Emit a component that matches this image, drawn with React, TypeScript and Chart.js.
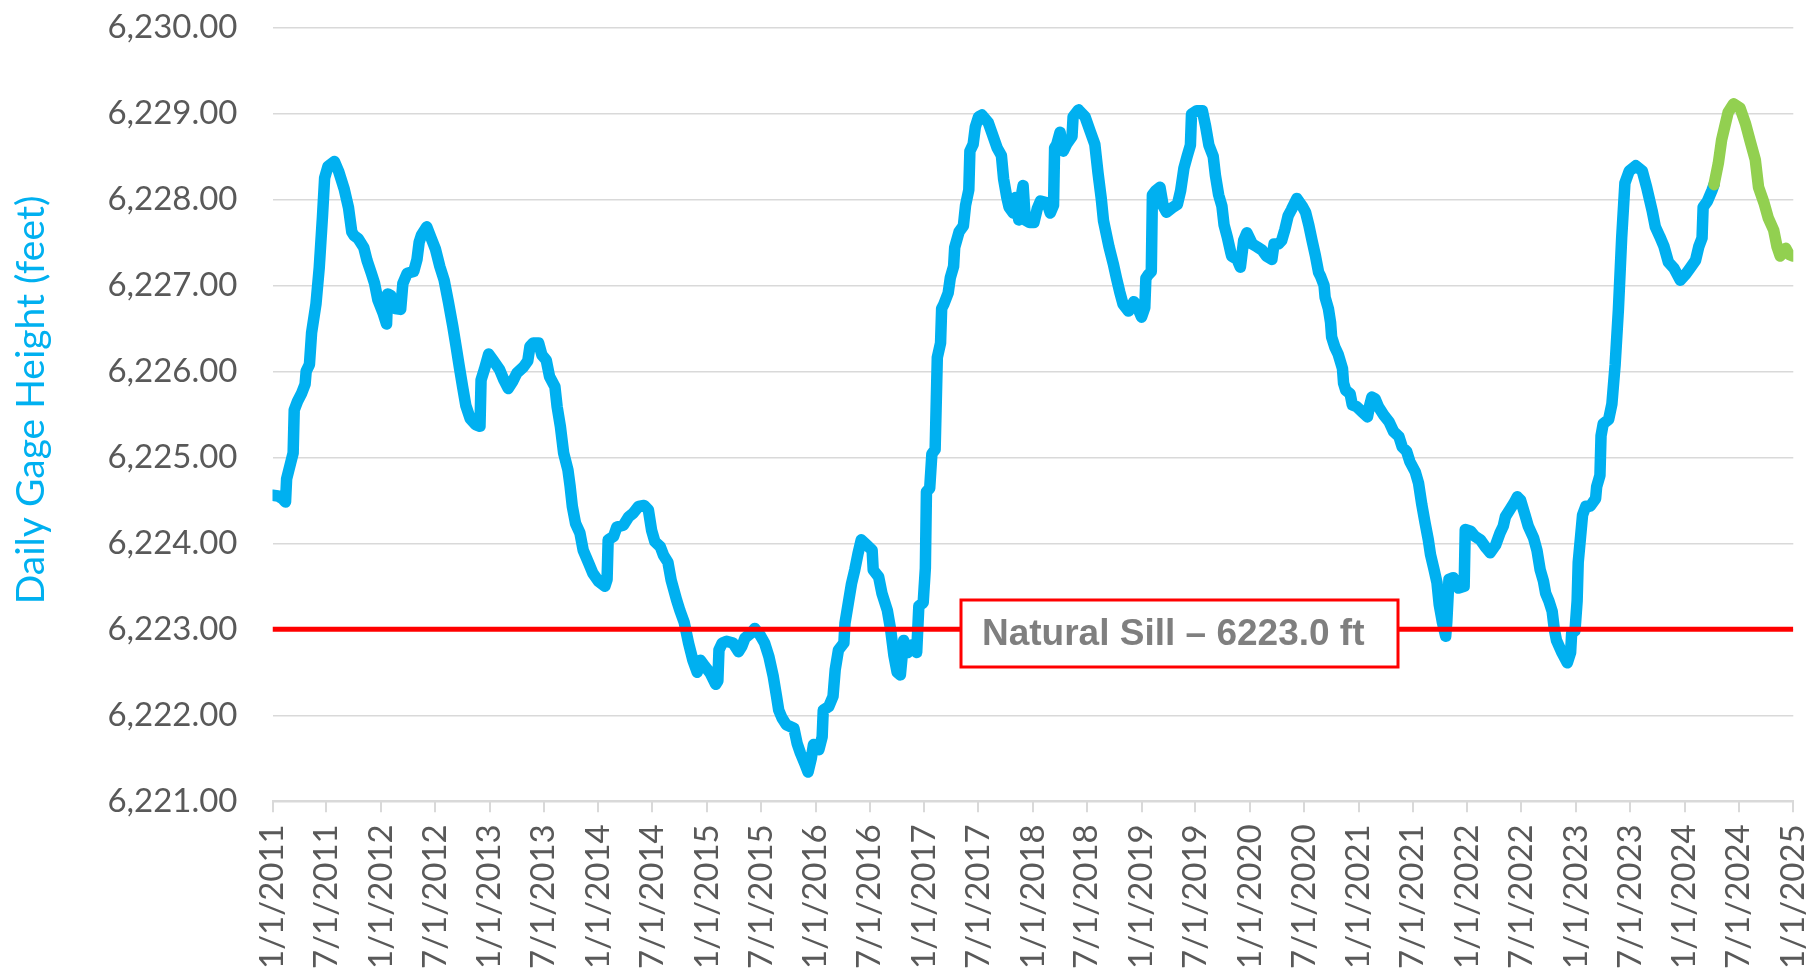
import React, { useEffect, useRef } from "react";
import { Chart, registerables } from "chart.js";

Chart.register(...registerables);

// ---------- DATA ----------
const tickLabels = [
  "1/1/2011", "7/1/2011", "1/1/2012", "7/1/2012", "1/1/2013", "7/1/2013",
  "1/1/2014", "7/1/2014", "1/1/2015", "7/1/2015", "1/1/2016", "7/1/2016",
  "1/1/2017", "7/1/2017", "1/1/2018", "7/1/2018", "1/1/2019", "7/1/2019",
  "1/1/2020", "7/1/2020", "1/1/2021", "7/1/2021", "1/1/2022", "7/1/2022",
  "1/1/2023", "7/1/2023", "1/1/2024", "7/1/2024", "1/1/2025",
];

const yAxisMin = 6221;
const yAxisMax = 6230;
const yAxisStep = 1;

const sillHeight = 6223.0;
const sillLabel = "Natural Sill \u2013 6223.0 ft";
const yTitle = "Daily Gage Height (feet)";

// Decimal-year dates and daily gage heights (blue = record, green = latest period)
const blueDates = [
  2011.00, 2011.05, 2011.09, 2011.12, 2011.13, 2011.17, 2011.19, 2011.20, 2011.23, 2011.27, 2011.30, 2011.31, 2011.34, 2011.36, 2011.40, 2011.43, 2011.46, 2011.48, 2011.51, 2011.57, 2011.61, 2011.66, 2011.70, 2011.73, 2011.75, 2011.79, 2011.84, 2011.87, 2011.91, 2011.94, 2011.97,
  2012.02, 2012.05, 2012.06, 2012.09, 2012.13, 2012.18, 2012.20, 2012.24, 2012.30, 2012.33, 2012.35, 2012.37, 2012.42, 2012.46, 2012.50, 2012.54, 2012.58, 2012.62, 2012.66, 2012.69, 2012.72, 2012.75, 2012.78, 2012.82, 2012.87, 2012.91, 2012.92, 2012.95, 2012.99,
  2013.03, 2013.09, 2013.13, 2013.17, 2013.21, 2013.25, 2013.31, 2013.35, 2013.37, 2013.40, 2013.45, 2013.48, 2013.52, 2013.55, 2013.60, 2013.62, 2013.65, 2013.68, 2013.72, 2013.74, 2013.76, 2013.79, 2013.83, 2013.86, 2013.91, 2013.95,
  2014.00, 2014.06, 2014.08, 2014.09, 2014.14, 2014.17, 2014.23, 2014.28, 2014.32, 2014.37, 2014.42, 2014.46, 2014.49, 2014.52, 2014.57, 2014.60, 2014.64, 2014.67, 2014.72, 2014.75, 2014.79, 2014.83, 2014.87, 2014.91, 2014.94, 2014.98,
  2015.03, 2015.08, 2015.10, 2015.11, 2015.14, 2015.18, 2015.24, 2015.29, 2015.32, 2015.35, 2015.40, 2015.44, 2015.49, 2015.53, 2015.57, 2015.61, 2015.64, 2015.66, 2015.69, 2015.73, 2015.80, 2015.83, 2015.86, 2015.90, 2015.93, 2015.96, 2015.98,
  2016.03, 2016.06, 2016.07, 2016.12, 2016.16, 2016.18, 2016.21, 2016.26, 2016.27, 2016.30, 2016.33, 2016.36, 2016.39, 2016.42, 2016.47, 2016.52, 2016.53, 2016.58, 2016.61, 2016.66, 2016.69, 2016.72, 2016.75, 2016.78, 2016.81, 2016.85, 2016.89, 2016.93, 2016.95, 2016.99,
  2017.01, 2017.02, 2017.05, 2017.07, 2017.10, 2017.12, 2017.15, 2017.16, 2017.18, 2017.22, 2017.24, 2017.27, 2017.28, 2017.32, 2017.36, 2017.38, 2017.41, 2017.42, 2017.45, 2017.47, 2017.50, 2017.53, 2017.59, 2017.62, 2017.67, 2017.71, 2017.73, 2017.76, 2017.78, 2017.82, 2017.84, 2017.87, 2017.90, 2017.91, 2017.93, 2017.97,
  2018.01, 2018.04, 2018.07, 2018.13, 2018.16, 2018.19, 2018.20, 2018.22, 2018.25, 2018.28, 2018.31, 2018.36, 2018.37, 2018.42, 2018.48, 2018.53, 2018.57, 2018.60, 2018.63, 2018.65, 2018.70, 2018.74, 2018.77, 2018.80, 2018.83, 2018.88, 2018.93, 2018.97,
  2019.00, 2019.03, 2019.04, 2019.06, 2019.09, 2019.10, 2019.13, 2019.17, 2019.20, 2019.23, 2019.28, 2019.33, 2019.36, 2019.39, 2019.42, 2019.45, 2019.46, 2019.51, 2019.56, 2019.59, 2019.62, 2019.66, 2019.68, 2019.71, 2019.74, 2019.76, 2019.79, 2019.82, 2019.83, 2019.88, 2019.91, 2019.94, 2019.97,
  2020.02, 2020.06, 2020.11, 2020.15, 2020.20, 2020.22, 2020.26, 2020.29, 2020.32, 2020.35, 2020.38, 2020.43, 2020.48, 2020.51, 2020.54, 2020.57, 2020.60, 2020.63, 2020.65, 2020.68, 2020.69, 2020.72, 2020.74, 2020.75, 2020.78, 2020.81, 2020.85, 2020.86, 2020.88, 2020.92, 2020.94, 2020.98,
  2021.03, 2021.08, 2021.10, 2021.12, 2021.15, 2021.18, 2021.23, 2021.28, 2021.32, 2021.37, 2021.40, 2021.44, 2021.47, 2021.52, 2021.55, 2021.58, 2021.61, 2021.64, 2021.66, 2021.69, 2021.72, 2021.74, 2021.77, 2021.80, 2021.81, 2021.83, 2021.87, 2021.92, 2021.97, 2021.98,
  2022.03, 2022.07, 2022.12, 2022.17, 2022.21, 2022.26, 2022.30, 2022.33, 2022.35, 2022.40, 2022.43, 2022.46, 2022.49, 2022.53, 2022.56, 2022.61, 2022.64, 2022.67, 2022.70, 2022.72, 2022.75, 2022.78, 2022.80, 2022.82, 2022.87, 2022.92, 2022.95, 2022.96, 2022.99,
  2023.01, 2023.02, 2023.06, 2023.09, 2023.13, 2023.18, 2023.19, 2023.22, 2023.23, 2023.25, 2023.30, 2023.33, 2023.36, 2023.39, 2023.42, 2023.45, 2023.49, 2023.55, 2023.61, 2023.65, 2023.70, 2023.73, 2023.77, 2023.81, 2023.85, 2023.90, 2023.96,
  2024.01, 2024.05, 2024.10, 2024.13, 2024.16, 2024.17, 2024.21, 2024.25, 2024.27,
];

const blueHeights = [
  6224.56, 6224.55, 6224.52, 6224.48, 6224.75, 6224.95, 6225.05, 6225.55, 6225.65, 6225.75, 6225.85, 6226.00, 6226.08, 6226.45, 6226.78, 6227.20, 6227.80, 6228.25, 6228.38, 6228.44, 6228.32, 6228.12, 6227.90, 6227.62, 6227.58, 6227.54, 6227.44, 6227.29, 6227.14, 6227.02, 6226.83,
  6226.67, 6226.55, 6226.90, 6226.88, 6226.73, 6226.72, 6227.02, 6227.14, 6227.16, 6227.30, 6227.50, 6227.58, 6227.68, 6227.55, 6227.42, 6227.22, 6227.06, 6226.80, 6226.52, 6226.29, 6226.05, 6225.82, 6225.60, 6225.45, 6225.38, 6225.36, 6225.90, 6226.02, 6226.20,
  6226.13, 6226.02, 6225.90, 6225.80, 6225.88, 6225.98, 6226.05, 6226.12, 6226.29, 6226.33, 6226.33, 6226.19, 6226.13, 6225.94, 6225.82, 6225.59, 6225.36, 6225.05, 6224.85, 6224.66, 6224.43, 6224.23, 6224.12, 6223.92, 6223.77, 6223.65,
  6223.56, 6223.50, 6223.58, 6224.04, 6224.08, 6224.19, 6224.21, 6224.31, 6224.35, 6224.43, 6224.44, 6224.39, 6224.15, 6224.02, 6223.96, 6223.86, 6223.78, 6223.57, 6223.34, 6223.22, 6223.08, 6222.84, 6222.64, 6222.50, 6222.64, 6222.57,
  6222.49, 6222.36, 6222.40, 6222.76, 6222.84, 6222.86, 6222.84, 6222.74, 6222.80, 6222.90, 6222.95, 6223.01, 6222.93, 6222.84, 6222.68, 6222.45, 6222.22, 6222.06, 6221.97, 6221.89, 6221.85, 6221.67, 6221.56, 6221.44, 6221.34, 6221.50, 6221.66,
  6221.60, 6221.75, 6222.06, 6222.10, 6222.22, 6222.53, 6222.76, 6222.84, 6223.07, 6223.30, 6223.53, 6223.69, 6223.88, 6224.04, 6223.98, 6223.92, 6223.69, 6223.61, 6223.42, 6223.22, 6223.00, 6222.70, 6222.50, 6222.47, 6222.87, 6222.73, 6222.82, 6222.73, 6223.27, 6223.31,
  6223.71, 6224.60, 6224.64, 6225.04, 6225.09, 6226.16, 6226.33, 6226.73, 6226.78, 6226.91, 6227.09, 6227.22, 6227.44, 6227.62, 6227.69, 6227.93, 6228.11, 6228.56, 6228.64, 6228.84, 6228.96, 6228.98, 6228.89, 6228.78, 6228.60, 6228.51, 6228.24, 6228.02, 6227.91, 6227.84, 6228.02, 6227.76, 6228.09, 6228.16, 6227.76, 6227.73,
  6227.73, 6227.89, 6227.98, 6227.96, 6227.84, 6227.93, 6228.60, 6228.64, 6228.78, 6228.56, 6228.64, 6228.73, 6228.96, 6229.04, 6228.96, 6228.78, 6228.64, 6228.30, 6228.00, 6227.75, 6227.45, 6227.25, 6227.08, 6226.92, 6226.78, 6226.70, 6226.81, 6226.72,
  6226.63, 6226.74, 6227.08, 6227.12, 6227.16, 6228.05, 6228.10, 6228.14, 6227.92, 6227.85, 6227.90, 6227.94, 6228.10, 6228.36, 6228.50, 6228.63, 6228.99, 6229.03, 6229.03, 6228.85, 6228.63, 6228.50, 6228.28, 6228.05, 6227.92, 6227.70, 6227.56, 6227.39, 6227.34, 6227.30, 6227.21, 6227.52, 6227.61,
  6227.48, 6227.45, 6227.41, 6227.34, 6227.30, 6227.48, 6227.48, 6227.52, 6227.65, 6227.81, 6227.88, 6228.01, 6227.92, 6227.85, 6227.70, 6227.52, 6227.35, 6227.15, 6227.10, 6227.00, 6226.86, 6226.73, 6226.57, 6226.40, 6226.28, 6226.20, 6226.03, 6225.86, 6225.78, 6225.74, 6225.61, 6225.59,
  6225.53, 6225.47, 6225.60, 6225.70, 6225.68, 6225.59, 6225.49, 6225.41, 6225.30, 6225.24, 6225.12, 6225.07, 6224.95, 6224.83, 6224.70, 6224.45, 6224.24, 6224.04, 6223.87, 6223.71, 6223.54, 6223.29, 6223.08, 6222.92, 6223.08, 6223.58, 6223.60, 6223.48, 6223.50, 6224.16,
  6224.14, 6224.08, 6224.04, 6223.95, 6223.89, 6223.98, 6224.12, 6224.20, 6224.31, 6224.41, 6224.47, 6224.54, 6224.50, 6224.33, 6224.20, 6224.06, 6223.92, 6223.69, 6223.56, 6223.42, 6223.33, 6223.21, 6223.00, 6222.87, 6222.73, 6222.61, 6222.73, 6222.96, 6222.98,
  6223.33, 6223.78, 6224.33, 6224.43, 6224.43, 6224.52, 6224.66, 6224.79, 6225.25, 6225.39, 6225.44, 6225.62, 6226.08, 6226.72, 6227.55, 6228.19, 6228.33, 6228.39, 6228.33, 6228.14, 6227.87, 6227.68, 6227.57, 6227.45, 6227.27, 6227.20, 6227.06,
  6227.13, 6227.20, 6227.29, 6227.45, 6227.55, 6227.91, 6227.98, 6228.10, 6228.17,
];

const greenDates = [
  2024.27, 2024.31, 2024.34, 2024.37, 2024.40, 2024.45, 2024.51, 2024.56, 2024.60, 2024.65,
  2024.68, 2024.73, 2024.77, 2024.82, 2024.85, 2024.88, 2024.93, 2024.96, 2025.00,
];
const greenHeights = [
  6228.17, 6228.42, 6228.69, 6228.85, 6229.01, 6229.11, 6229.06, 6228.88, 6228.69, 6228.46,
  6228.14, 6227.96, 6227.78, 6227.64, 6227.45, 6227.34, 6227.43, 6227.36, 6227.34,
];

// ---------- HELPERS ----------
function labelToYear(label: string): number {
  const [m, d, y] = label.split("/").map(Number);
  const start = Date.UTC(y, 0, 1);
  const end = Date.UTC(y + 1, 0, 1);
  return y + (Date.UTC(y, m - 1, d) - start) / (end - start);
}
const tickValues = tickLabels.map(labelToYear);

const toPoints = (xs: number[], ys: number[]) => xs.map((x, i) => ({ x, y: ys[i] }));

const BLUE = "#00B0F0";
const GREEN = "#92D050";
const RED = "#FF0000";
const GRID = "#D9D9D9";
const TICK_TEXT = "#595959";

const zeroPadding = (axis: any) => {
  axis.paddingTop = 0;
  axis.paddingBottom = 0;
  axis.paddingLeft = 0;
  axis.paddingRight = 0;
};

const overlayPlugin = {
  id: "overlay",
  afterDatasetsDraw(chart: any) {
    const ctx = chart.ctx as CanvasRenderingContext2D;
    const yScale = chart.scales.y;
    const lineY = yScale.getPixelForValue(sillHeight);
    // annotation box
    const bx = 961, bw = 437, bh = 67;
    const by = lineY - 29.3;
    ctx.save();
    ctx.fillStyle = "#FFFFFF";
    ctx.fillRect(bx, by, bw, bh);
    ctx.lineWidth = 3;
    ctx.strokeStyle = RED;
    ctx.strokeRect(bx, by, bw, bh);
    ctx.font = "bold 37px 'Liberation Sans', Arial, sans-serif";
    ctx.fillStyle = "#7F7F7F";
    ctx.textAlign = "left";
    ctx.textBaseline = "alphabetic";
    ctx.fillText(sillLabel, bx + 21, by + 45);
    ctx.restore();
  },
  afterDraw(chart: any) {
    const ctx = chart.ctx as CanvasRenderingContext2D;
    ctx.save();
    ctx.translate(44, 400);
    ctx.rotate(-Math.PI / 2);
    ctx.font = "39px Lato, sans-serif";
    ctx.fillStyle = BLUE;
    ctx.textAlign = "center";
    ctx.textBaseline = "alphabetic";
    ctx.fillText(yTitle, 0, 0);
    ctx.restore();
  },
};

export default function App() {
  const canvasRef = useRef<HTMLCanvasElement | null>(null);

  useEffect(() => {
    if (!canvasRef.current) return;
    const xMin = tickValues[0];
    const xMax = tickValues[tickValues.length - 1];
    const chart = new Chart(canvasRef.current, {
      type: "line",
      data: {
        datasets: [
          {
            label: "Natural Sill",
            data: [
              { x: xMin, y: sillHeight },
              { x: xMax, y: sillHeight },
            ],
            borderColor: RED,
            borderWidth: 5,
            pointRadius: 0,
            fill: false,
          },
          {
            label: "Daily Gage Height (latest)",
            data: toPoints(greenDates, greenHeights),
            borderColor: GREEN,
            borderWidth: 11.5,
            borderCapStyle: "round",
            borderJoinStyle: "round",
            pointRadius: 0,
            tension: 0,
            fill: false,
          },
          {
            label: "Daily Gage Height",
            data: toPoints(blueDates, blueHeights),
            borderColor: BLUE,
            borderWidth: 11.5,
            borderCapStyle: "round",
            borderJoinStyle: "round",
            pointRadius: 0,
            tension: 0,
            fill: false,
          },
        ],
      },
      options: {
        animation: false,
        responsive: false,
        devicePixelRatio: 1,
        events: [],
        layout: {
          autoPadding: false,
          padding: { top: 27.3, right: 18.7, bottom: 0, left: 0 },
        },
        plugins: {
          legend: { display: false },
          tooltip: { enabled: false },
          title: { display: false },
        },
        scales: {
          x: {
            type: "linear",
            min: xMin,
            max: xMax,
            afterBuildTicks: (axis: any) => {
              axis.ticks = tickValues.map((v) => ({ value: v }));
            },
            afterFit: (axis: any) => {
              axis.height = 167.7;
              zeroPadding(axis);
            },
            ticks: {
              autoSkip: false,
              maxRotation: 90,
              minRotation: 90,
              padding: 12,
              color: TICK_TEXT,
              font: { family: "Lato", size: 33 },
              callback: (_v: any, i: number) => tickLabels[i],
            },
            grid: {
              display: true,
              drawOnChartArea: false,
              drawTicks: true,
              tickLength: 11,
              color: GRID,
              lineWidth: 2,
            },
            border: { display: true, color: GRID, width: 2 },
          },
          y: {
            type: "linear",
            min: yAxisMin,
            max: yAxisMax,
            afterFit: (axis: any) => {
              axis.width = 272.5;
              zeroPadding(axis);
            },
            ticks: {
              stepSize: yAxisStep,
              padding: 35,
              color: TICK_TEXT,
              font: { family: "Lato", size: 33 },
              callback: (v: any) =>
                Number(v).toLocaleString("en-US", {
                  minimumFractionDigits: 2,
                  maximumFractionDigits: 2,
                }),
            },
            grid: { color: GRID, lineWidth: 1.5, drawTicks: false },
            border: { display: false },
          },
        },
      },
      plugins: [overlayPlugin],
    } as any);
    return () => chart.destroy();
  }, []);

  return (
    <div
      style={{
        position: "fixed",
        left: 0,
        top: 0,
        width: 1812,
        height: 969,
        background: "#FFFFFF",
      }}
    >
      <canvas
        ref={canvasRef}
        width={1812}
        height={969}
        style={{ display: "block", width: 1812, height: 969 }}
      />
    </div>
  );
}
